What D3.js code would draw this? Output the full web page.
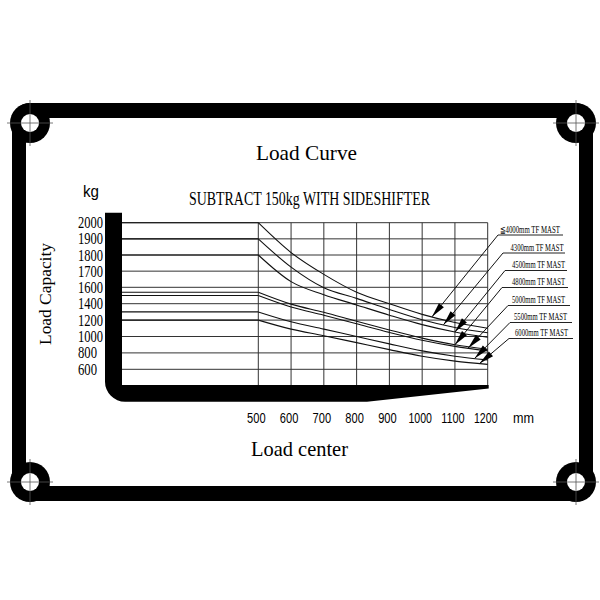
<!DOCTYPE html>
<html><head><meta charset="utf-8">
<script src="https://cdn.jsdelivr.net/npm/d3@7/dist/d3.min.js"></script>
<style>body{margin:0;background:#fff}svg{display:block}</style>
</head><body>
<script>
// ---- data ----
const loadCenters = [500, 600, 700, 800, 900, 1000, 1100, 1200];
const yTickLabels = [2000, 1900, 1800, 1700, 1600, 1400, 1200, 1000, 800, 600];
const mastNames = ["\u22664000mm TF MAST", "4300mm TF MAST", "4500mm TF MAST", "4800mm TF MAST", "5000mm TF MAST", "5500mm TF MAST", "6000mm TF MAST"];
const mast4000 = [2000, 1815, 1680, 1540, 1400, 1270, 1170, 1100];
const mast4300 = [1900, 1725, 1595, 1465, 1330, 1205, 1110, 1045];
const mast4500 = [1800, 1635, 1510, 1385, 1260, 1145, 1055, 990];
const mast4800 = [1540, 1395, 1295, 1185, 1080, 980, 900, 845];
const mast5000 = [1500, 1360, 1260, 1155, 1050, 955, 880, 825];
const mast5500 = [1300, 1180, 1090, 1000, 910, 825, 760, 715];
const mast6000 = [1200, 1090, 1010, 925, 840, 760, 700, 660];
const arrowCenters = [1030, 1065, 1100, 1100, 1140, 1160, 1175];
const series = [mast4000, mast4300, mast4500, mast4800, mast5000, mast5500, mast6000];

// ---- layout ----
const W = 600, H = 600;
const svg = d3.select("body").append("svg").attr("width", W).attr("height", H);
const serif = "'Liberation Serif', 'DejaVu Serif', serif";
const sans = "'Liberation Sans', Arial, sans-serif";

const plotLeft = 122, plotBottom = 385;
const x = d3.scaleLinear().domain([500, 1200]).range([258.3, 487.7]);
const y = d3.scaleLinear().domain([600, 1600, 2000]).range([369.3, 287.3, 222.7]);
const xRight = x(1200);

// ---- frame ----
const fr = svg.append("g");
fr.append("rect").attr("x", 12).attr("y", 103).attr("width", 581).attr("height", 398).attr("rx", 18).attr("fill", "#000");
fr.append("rect").attr("x", 26).attr("y", 118).attr("width", 553).attr("height", 368).attr("fill", "#fff");
const holes = [[30, 123], [576, 123], [30, 482], [576, 482]];
holes.forEach(([cx, cy]) => {
  fr.append("circle").attr("cx", cx).attr("cy", cy).attr("r", 20).attr("fill", "#000");
  fr.append("circle").attr("cx", cx).attr("cy", cy).attr("r", 9).attr("fill", "#fff");
  fr.append("line").attr("x1", cx - 23).attr("x2", cx + 23).attr("y1", cy).attr("y2", cy).attr("stroke", "#555").attr("stroke-width", 0.8);
  fr.append("line").attr("x1", cx).attr("x2", cx).attr("y1", cy - 23).attr("y2", cy + 23).attr("stroke", "#555").attr("stroke-width", 0.8);
});

// ---- titles ----
svg.append("text").attr("x", 256).attr("y", 160).attr("font-family", serif).attr("font-size", 21)
  .attr("textLength", 101).attr("lengthAdjust", "spacingAndGlyphs").text("Load Curve");
svg.append("text").attr("x", 189).attr("y", 205).attr("font-family", serif).attr("font-size", 18)
  .attr("textLength", 241).attr("lengthAdjust", "spacingAndGlyphs").text("SUBTRACT 150kg WITH SIDESHIFTER");
svg.append("text").attr("x", 83).attr("y", 197).attr("font-family", sans).attr("font-size", 16)
  .attr("textLength", 16).attr("lengthAdjust", "spacingAndGlyphs").text("kg");
svg.append("text").attr("transform", "translate(51,294) rotate(-90)").attr("text-anchor", "middle")
  .attr("font-family", serif).attr("font-size", 16).attr("textLength", 102).attr("lengthAdjust", "spacingAndGlyphs").text("Load Capacity");
svg.append("text").attr("x", 251).attr("y", 456).attr("font-family", serif).attr("font-size", 21)
  .attr("textLength", 97).attr("lengthAdjust", "spacingAndGlyphs").text("Load center");

// ---- grid ----
const grid = svg.append("g").attr("stroke", "#333").attr("stroke-width", 1);
grid.selectAll("line.h").data(yTickLabels).enter().append("line")
  .attr("x1", plotLeft).attr("x2", xRight).attr("y1", d => y(d)).attr("y2", d => y(d));
grid.selectAll("line.v").data(loadCenters).enter().append("line")
  .attr("x1", d => x(d)).attr("x2", d => x(d)).attr("y1", y(2000)).attr("y2", plotBottom);

// y labels
svg.append("g").selectAll("text").data(yTickLabels).enter().append("text")
  .attr("x", 78).attr("y", d => y(d) + 5.5).attr("font-family", serif).attr("font-size", 16)
  .attr("textLength", d => String(d).length === 4 ? 25 : 19).attr("lengthAdjust", "spacingAndGlyphs")
  .text(d => d);

// x labels
svg.append("g").selectAll("text").data(loadCenters).enter().append("text")
  .attr("x", d => x(d) - 2).attr("y", 423).attr("text-anchor", "middle").attr("font-family", sans).attr("font-size", 15)
  .attr("textLength", d => String(d).length === 4 ? 23.5 : 18.5).attr("lengthAdjust", "spacingAndGlyphs")
  .text(d => d);
svg.append("text").attr("x", 513).attr("y", 423).attr("font-family", sans).attr("font-size", 15)
  .attr("textLength", 21).attr("lengthAdjust", "spacingAndGlyphs").text("mm");

// ---- curves ----
const line = d3.line().x(d => x(d[0])).y(d => y(d[1])).curve(d3.curveMonotoneX);
const cg = svg.append("g").attr("fill", "none").attr("stroke", "#111").attr("stroke-width", 1.1);
series.forEach(vals => {
  cg.append("line").attr("x1", plotLeft).attr("x2", x(500)).attr("y1", y(vals[0])).attr("y2", y(vals[0]));
  cg.append("path").attr("d", line(loadCenters.map((c, i) => [c, vals[i]])));
});

// ---- fork ----
const fork = d3.path();
fork.moveTo(105, 212.7);
fork.lineTo(122, 212.7);
fork.lineTo(122, plotBottom);
fork.lineTo(xRight + 1, plotBottom);
fork.lineTo(xRight + 1, 388.5);
fork.lineTo(367, 401.7);
fork.lineTo(125, 401.7);
fork.arcTo(105, 401.7, 105, 381.7, 20);
fork.closePath();
svg.append("path").attr("d", fork.toString()).attr("fill", "#000");

// ---- legend with leader arrows ----
const lblX = [500, 510.5, 512, 512, 512, 514, 515];
const lblY = [232.5, 250.5, 268, 285, 303, 320, 336];
const ulL = [498, 503, 505, 502, 508, 510, 509];
const ulR = [563, 565, 567, 568, 570, 572, 573];
const lg = svg.append("g");
mastNames.forEach((name, i) => {
  lg.append("text").attr("x", lblX[i]).attr("y", lblY[i]).attr("font-family", serif).attr("font-size", 10)
    .attr("textLength", i === 0 ? 60 : 53).attr("lengthAdjust", "spacingAndGlyphs").text(name);
  const uy = lblY[i] + 2.5;
  lg.append("line").attr("x1", ulL[i]).attr("x2", ulR[i]).attr("y1", uy).attr("y2", uy).attr("stroke", "#222").attr("stroke-width", 1);
  const vals = series[i];
  const c = arrowCenters[i];
  const k = Math.floor((c - 500) / 100);
  const t = (c - loadCenters[k]) / 100;
  const v = vals[k] + (vals[k + 1] - vals[k]) * t;
  const tx = x(c), ty = y(v);
  const sx = ulL[i], sy = uy;
  lg.append("line").attr("x1", sx).attr("y1", sy).attr("x2", tx).attr("y2", ty).attr("stroke", "#111").attr("stroke-width", 1);
  const dx = sx - tx, dy = sy - ty, len = Math.hypot(dx, dy);
  const ux = dx / len, uy2 = dy / len;
  const bl = 15, hw = 3.2;
  const bx = tx + ux * bl, by = ty + uy2 * bl;
  lg.append("path").attr("d", `M${tx},${ty}L${bx - uy2 * hw},${by + ux * hw}L${bx + uy2 * hw},${by - ux * hw}Z`).attr("fill", "#000");
});
</script>
</body></html>
